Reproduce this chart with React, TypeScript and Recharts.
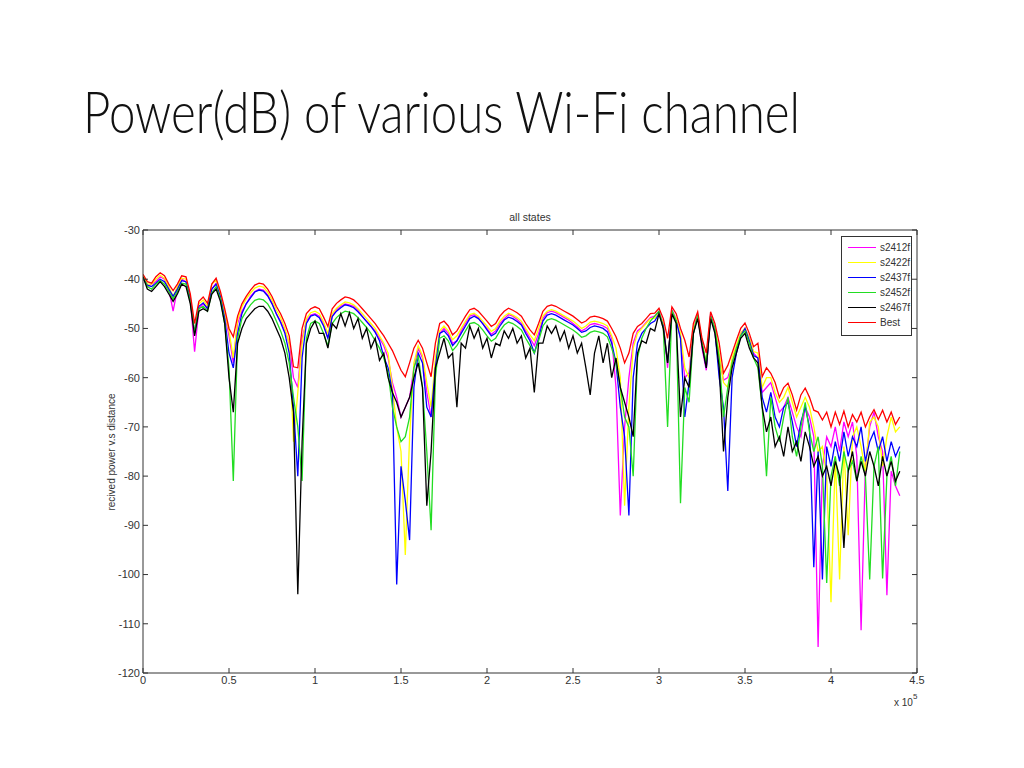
import React from "react";
import { CartesianGrid, Line, LineChart, XAxis, YAxis } from "recharts";

// distance axis is in units of 10^5, one sample every 0.025
const step = 0.025;
const xTicks = [0, 0.5, 1, 1.5, 2, 2.5, 3, 3.5, 4, 4.5];
const yTicks = [-120, -110, -100, -90, -80, -70, -60, -50, -40, -30];

const s2412f = [
  -39.5, -41.5, -41, -40.5, -39.5, -40, -42, -46.5, -42, -40, -40.5, -44, -54.7, -46, -45, -46, -42, -40.8, -43.5, -47,
  -51.5, -57, -49, -46.5, -45, -43.5, -42.5, -42, -42.2, -43.2, -44.8, -47, -48.5, -50.5, -53, -60, -62, -52, -48.5, -47.3,
  -47, -47.5, -49, -52, -47.5, -46.2, -45.5, -45, -45.2, -45.5, -46.3, -47.5, -48.5, -49.5, -50.5, -52, -53.5, -56, -61, -64,
  -68, -66, -64, -58, -54, -56, -63, -68, -58, -51, -50, -51, -53, -52.5, -50.5, -49, -47.5, -47.2, -47.8, -49,
  -50, -51.2, -50.5, -49, -48, -47.2, -47.5, -48.2, -49, -50.5, -52, -53.5, -51, -48, -46.8, -46.5, -46.8, -47.3, -47.8, -48.3,
  -49, -49.7, -50.5, -50, -49.2, -49, -49.2, -49.5, -50, -52, -62, -88, -70, -60, -53, -50.5, -49.8, -48.8, -47.8, -47.5,
  -46.5, -49, -58, -46.2, -48, -52, -60, -59, -50, -47.2, -54, -58.5, -47.2, -50, -56, -60.5, -60, -57, -54, -51,
  -50, -52, -55, -56, -63, -62, -61, -64, -67, -66, -64, -67, -70, -72, -66, -68, -72, -114.7, -78, -72,
  -74, -70, -75, -69, -72, -69, -76, -111.3, -78, -70, -67, -72, -75, -104.2, -79, -82, -84,
];

const s2422f = [
  -39.2, -41, -41, -40, -39.2, -39.8, -41.5, -43.5, -41.5, -39.8, -40, -43.5, -51, -45, -44.2, -45.5, -41, -40.2, -43, -47,
  -50.5, -56, -48.3, -45.6, -44, -42.8, -41.8, -41.4, -41.6, -42.6, -44.2, -46.2, -47.8, -50, -53, -73, -63, -53, -48, -46.8,
  -46.5, -47, -48.7, -51, -47, -45.9, -45.2, -44.6, -44.8, -45.2, -46, -47, -48, -49, -50, -51.5, -53, -55, -62, -70,
  -75, -96, -72, -57, -53.5, -55.5, -61, -66, -56, -50.5, -49.5, -50.5, -52.3, -51.5, -50, -48.5, -47.2, -46.9, -47.5, -48.5,
  -49.5, -50.6, -50, -48.5, -47.5, -46.9, -47.3, -47.8, -48.5, -50, -51.3, -52.5, -50, -47.5, -46.5, -46.2, -46.5, -47, -47.5, -48,
  -48.5, -49.2, -50, -49.5, -48.7, -48.5, -48.7, -49, -49.5, -51.5, -54, -60, -86, -66, -54, -51, -50, -49, -48, -47.9,
  -46.9, -49, -57, -46.6, -48, -51, -58, -60, -50, -47.6, -53, -57, -47.6, -50, -55, -61, -62, -56, -53.4, -51,
  -49.9, -52, -54.7, -55, -62, -60, -60, -63, -65, -64, -62, -65, -68, -66, -64, -66, -70, -75, -74, -80,
  -105.6, -76, -101, -74, -92, -72, -70, -74, -79, -69, -68, -70, -78, -72, -68, -71, -70,
];

const s2437f = [
  -39.8, -41.2, -41.5, -40.8, -40, -40.5, -42, -43.5, -42, -40.3, -40.5, -44, -51, -45.5, -44.8, -46, -42, -41, -43.5, -48,
  -55, -58, -51, -47, -45, -43.8, -42.6, -42.2, -42.4, -43.4, -45, -47, -48.8, -51, -55, -66, -80, -56, -49, -47.5,
  -47.2, -47.8, -49.5, -52, -47.6, -46.5, -45.8, -45.2, -45.4, -45.8, -46.6, -47.6, -48.6, -49.6, -50.8, -52.5, -55.8, -58, -63, -102,
  -78, -85, -93, -62, -55, -57, -66, -68, -58, -51, -50.5, -51.5, -53.5, -52.5, -51, -49.5, -48, -47.5, -48, -49,
  -50.3, -51.5, -51, -49.5, -48.3, -47.7, -48, -48.6, -49.3, -51, -52.5, -55, -52, -48.5, -47.3, -47, -47.3, -47.8, -48.3, -48.8,
  -49.3, -50, -50.8, -50.5, -49.8, -49.5, -49.7, -50, -50.7, -53, -57, -66, -72, -88, -60, -53, -51, -50, -49, -48.5,
  -47, -49.5, -57, -46.8, -48.5, -52, -68, -61, -51, -47.5, -53, -58, -47.5, -50.5, -60, -66, -83, -60, -55, -51.5,
  -50, -52.5, -55.5, -56, -64, -67, -63, -68, -70, -66, -65, -69, -74, -69, -66, -70, -98.5, -75, -101, -74,
  -78, -73, -77, -71, -76, -72, -74, -70, -77, -73, -71, -75, -72, -77, -73, -76, -74,
];

const s2452f = [
  -39.5, -41.5, -42, -41, -40.3, -41, -42.5, -44, -42.5, -40.8, -41, -44.5, -51, -46, -45.5, -46.5, -42.8, -41.5, -44, -49,
  -58, -81, -52, -48, -46.5, -45.2, -44.3, -44, -44.2, -45, -46.5, -48.5, -50.5, -53, -57, -64, -70, -81, -52, -49,
  -48.5, -49, -51, -53.5, -49, -47.8, -47, -46.5, -46.7, -47, -47.8, -48.8, -49.8, -51, -52.5, -54, -56, -59, -66, -70,
  -73, -72, -68, -58, -55.5, -62, -75, -91, -60, -52, -51.5, -52.5, -54.5, -53.5, -52, -50.5, -49, -48.8, -49.3, -50.3,
  -51.5, -52.6, -52, -50.5, -49.3, -48.7, -49, -49.6, -50.3, -52, -53.5, -55, -52.5, -49.5, -48.3, -48, -48.3, -48.8, -49.3, -49.8,
  -50.3, -51, -51.8, -51.5, -50.8, -50.5, -50.7, -51, -51.7, -54, -57, -62, -68, -70, -80, -56, -52, -50, -48.5, -47.5,
  -46.5, -50, -70, -46.3, -48.5, -85.5, -62, -65, -51, -47.3, -53, -57, -47.5, -50, -56, -68, -62, -57, -54, -51.5,
  -50.5, -53, -56, -58, -66, -80, -64, -70, -73, -68, -64, -72, -76, -70, -65, -71, -75, -72, -78, -101.7,
  -80, -76, -82, -75, -79, -77, -81, -76, -80, -101, -78, -74, -100.8, -80, -76, -82, -75,
];

const s2467f = [
  -39.5, -42, -42.5, -41.5, -40.5, -41.5, -43, -44.5, -43, -41, -41.5, -45, -51.5, -46.5, -46, -46.5, -43, -42, -44.5, -49,
  -60, -67, -53, -50, -48, -47, -46, -45.5, -45.5, -46.5, -48, -50, -52, -55, -60, -67, -104, -73, -53, -50,
  -48.5, -51, -51, -54, -49, -50, -47, -49.5, -46.8, -50, -48, -52, -50, -54, -52, -56.5, -55, -60, -63, -65,
  -68, -66, -64, -60, -57, -62, -86, -75, -58, -55, -52, -56, -55, -66, -53, -54, -49.5, -52, -50, -54,
  -52, -56, -53, -53.5, -50.5, -52, -50, -53, -51.5, -56, -54, -63, -53, -53, -49.5, -51, -49.5, -52.5, -50.5, -54,
  -51.5, -55, -53, -58, -63.5, -55, -51.5, -57, -53, -60, -56, -62, -65, -68, -72, -55, -52.5, -53, -50, -50.5,
  -47, -50, -57, -47, -49, -68, -60, -62, -51, -48, -53.5, -58, -48, -51, -58, -75, -64, -58, -55, -52,
  -51, -54, -56, -57, -66, -71, -68, -74, -72, -76, -70, -75, -73, -77, -71, -74, -78, -76, -80, -78,
  -82, -77, -80, -94.6, -79, -75, -81, -77, -80, -75, -78, -82, -76, -80, -77, -81, -79,
];

const best = [
  -39, -40.5, -40.8, -39.5, -38.7, -39.3, -41, -42.3, -41, -39.3, -39.5, -43, -49, -44.5, -43.6, -44.9, -41, -39.8, -42.5, -46,
  -50, -51.7, -47.5, -45, -43.5, -42.2, -41.2, -40.8, -41, -42, -43.5, -45.5, -47, -49, -51.5, -57.8, -58, -50, -47, -46,
  -45.6, -46, -47.7, -49.6, -46, -44.9, -44.2, -43.6, -43.8, -44.2, -45, -46, -47, -48, -49, -50.3, -51.5, -53, -54.5, -56.5,
  -58.5, -59.8, -57, -54, -52.4, -54, -57, -59.8, -53, -49, -48.5, -49.5, -51.3, -50.5, -49, -47.5, -46.2, -45.9, -46.5, -47.5,
  -48.5, -49.6, -49, -47.5, -46.5, -45.9, -46.3, -46.8, -47.5, -49, -50.3, -51.3, -49, -46.5, -45.5, -45.2, -45.5, -46, -46.5, -47,
  -47.5, -48.2, -48.9, -48.5, -47.7, -47.5, -47.7, -48, -48.5, -50, -51.7, -54, -57, -55, -51, -49.6, -49, -48, -47, -46.9,
  -45.9, -48, -52, -45.6, -47, -50, -52.4, -55.8, -49, -46.6, -52, -55, -46.6, -49, -53, -59.1, -57.5, -55, -52.4, -50,
  -48.9, -51, -53.7, -53, -59.8, -58, -59.1, -61, -64, -62, -61.1, -63.5, -66.6, -63.5, -62.1, -64, -66.6, -67, -68.6, -67,
  -70, -67, -69.5, -66.8, -70, -67.5, -69, -67, -70, -68, -66.5, -68.5, -66.6, -69, -67, -69.5, -68,
];

const series = [
  { key: "s2412f", values: s2412f, color: "#ff00ff" },
  { key: "s2422f", values: s2422f, color: "#ffff00" },
  { key: "s2437f", values: s2437f, color: "#0000ff" },
  { key: "s2452f", values: s2452f, color: "#22dd22" },
  { key: "s2467f", values: s2467f, color: "#000000" },
  { key: "Best", values: best, color: "#ff0000" },
];

const data = best.map((_, i) => {
  const row: Record<string, number> = { x: +(i * step).toFixed(3) };
  series.forEach((s) => {
    row[s.key] = s.values[i];
  });
  return row;
});

const axisColor = "#333333";
const tickFont = { fill: "#333333", fontSize: 11, fontFamily: "'Liberation Sans', Arial, sans-serif" };
// mirrored axes keep their tick marks but show no labels
const noLabel = () => <g />;

export default function App() {
  return (
    <div style={{ position: "absolute", left: 0, top: 0, width: 1024, height: 768, background: "#fff" }}>
      <div style={{ position: "absolute", left: 0, top: 0 }}>
        <LineChart
          width={1024}
          height={768}
          data={data}
          margin={{ top: 229, right: 106, bottom: 65, left: 103 }}
        >
          <CartesianGrid stroke="none" />
          <XAxis
            xAxisId="b"
            dataKey="x"
            type="number"
            domain={[0, 4.5]}
            ticks={xTicks}
            allowDataOverflow
            height={30}
            tickSize={-5}
            tickMargin={8}
            stroke={axisColor}
            tick={tickFont}
          />
          <XAxis
            xAxisId="t"
            orientation="top"
            dataKey="x"
            type="number"
            domain={[0, 4.5]}
            ticks={xTicks}
            allowDataOverflow
            height={1}
            tickSize={-5}
            stroke={axisColor}
            tick={noLabel}
          />
          <YAxis
            yAxisId="l"
            type="number"
            domain={[-120, -30]}
            ticks={yTicks}
            allowDataOverflow
            width={40}
            tickSize={-5}
            tickMargin={8}
            stroke={axisColor}
            tick={tickFont}
          />
          <YAxis
            yAxisId="r"
            orientation="right"
            type="number"
            domain={[-120, -30]}
            ticks={yTicks}
            allowDataOverflow
            width={1}
            tickSize={-5}
            stroke={axisColor}
            tick={noLabel}
          />
          {series.map((s) => (
            <Line
              key={s.key}
              xAxisId="b"
              yAxisId="l"
              type="linear"
              dataKey={s.key}
              stroke={s.color}
              strokeWidth={1.3}
              dot={false}
              activeDot={false}
              isAnimationActive={false}
            />
          ))}
        </LineChart>
      </div>

      <svg width={1024} height={768} style={{ position: "absolute", left: 0, top: 0, pointerEvents: "none" }}>
        <text
          x={83}
          y={133}
          fontSize={58}
          fontWeight={300}
          fontFamily="Lato, 'Open Sans', sans-serif"
          fill="#111"
          textLength={717}
          lengthAdjust="spacingAndGlyphs"
        >
          Power(dB) of various Wi-Fi channel
        </text>
        <text x={530} y={221} textAnchor="middle" fontSize={10.5} fill="#333" fontFamily="'Liberation Sans', Arial, sans-serif">
          all states
        </text>
        <text
          transform="translate(115,452) rotate(-90)"
          textAnchor="middle"
          fontSize={10}
          fill="#333"
          fontFamily="'Liberation Sans', Arial, sans-serif"
        >
          recived power v.s distance
        </text>
        <text x={894} y={706} fontSize={10} fill="#333" fontFamily="'Liberation Sans', Arial, sans-serif">
          x 10
        </text>
        <text x={913} y={699} fontSize={8} fill="#333" fontFamily="'Liberation Sans', Arial, sans-serif">
          5
        </text>
      </svg>

      <div
        style={{
          position: "absolute",
          left: 841,
          top: 236,
          width: 69,
          height: 95,
          border: `1px solid ${axisColor}`,
          background: "#fff",
          padding: "3px 0 0 0",
          boxSizing: "content-box",
          fontFamily: "'Liberation Sans', Arial, sans-serif",
          fontSize: 10,
          color: "#333",
        }}
      >
        {series.map((s) => (
          <div key={s.key} style={{ display: "flex", alignItems: "center", height: 15 }}>
            <div style={{ width: 28, height: 0, borderTop: `1px solid ${s.color}`, marginLeft: 6, marginRight: 4 }} />
            <span>{s.key}</span>
          </div>
        ))}
      </div>
    </div>
  );
}
